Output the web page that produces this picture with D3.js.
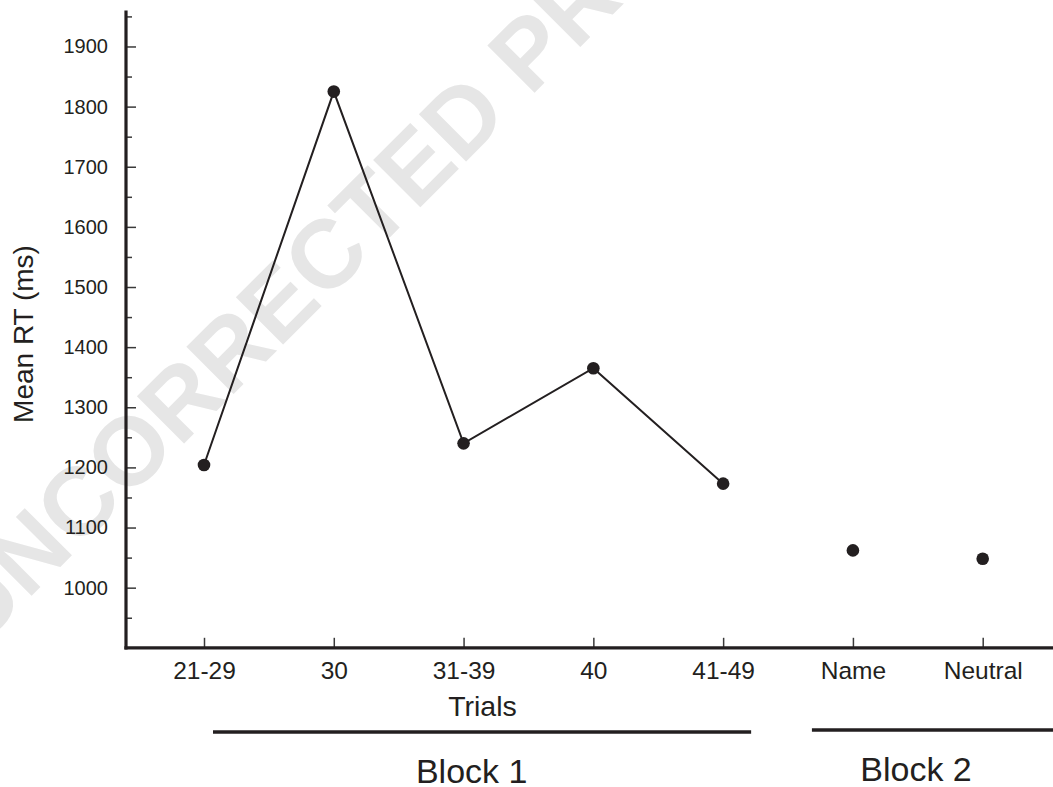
<!DOCTYPE html>
<html>
<head>
<meta charset="utf-8">
<script src="https://cdn.jsdelivr.net/npm/d3@7/dist/d3.min.js"></script>
<style>
  html, body { margin: 0; padding: 0; background: #fff; }
  svg { display: block; font-family: "Liberation Sans", Arial, Helvetica, sans-serif; }
</style>
</head>
<body>
<svg id="chart" width="1053" height="787"></svg>
<script>
// ---- data ----
const categories = ["21-29", "30", "31-39", "40", "41-49", "Name", "Neutral"];
const block1Values = [1204, 1825, 1240, 1365, 1173];   // connected line (21-29 .. 41-49)
const block2Values = [1062, 1048];                     // separate points (Name, Neutral)
const block1Cats = ["21-29", "30", "31-39", "40", "41-49"];
const block2Cats = ["Name", "Neutral"];
const yMajorTicks = [1000, 1100, 1200, 1300, 1400, 1500, 1600, 1700, 1800, 1900];
const yMinorTicks = [950, 1050, 1150, 1250, 1350, 1450, 1550, 1650, 1750, 1850, 1950];
const blockNames = ["Block 1", "Block 2"];
const blockFirst = ["21-29", "Name"];
const blockLast = ["41-49", "Neutral"];
const yTitle = "Mean RT (ms)";
const xTitle = "Trials";
const watermark = "UNCORRECTED PROOF";

const ink = "#231f20";
const svg = d3.select("#chart");

const x = d3.scalePoint().domain(categories).range([204, 982.7]);
const y = d3.scaleLinear().domain([900, 1960]).range([647.8, 10.4]);
const axisX = 126;

// watermark (behind everything)
svg.append("text")
  .attr("transform", "translate(352,228) rotate(-45)")
  .attr("text-anchor", "middle")
  .attr("dominant-baseline", "central")
  .attr("font-size", 97)
  .attr("font-weight", "bold")
  .attr("fill", "#e6e6e6")
  .text(watermark);

// y axis: minor ticks
const gMinor = svg.append("g").attr("transform", `translate(${axisX},0)`)
  .call(d3.axisLeft(y).tickValues(yMinorTicks).tickSize(-6).tickFormat(""));
gMinor.select(".domain").remove();
gMinor.selectAll("line").attr("stroke", "#3a3a3a").attr("stroke-width", 1.5);

// y axis: major ticks + labels
const gY = svg.append("g").attr("transform", `translate(${axisX},0)`)
  .call(d3.axisLeft(y).tickValues(yMajorTicks).tickSize(-10).tickPadding(18).tickFormat(d3.format("d")));
gY.select(".domain").remove();
gY.selectAll("line").attr("stroke", "#3a3a3a").attr("stroke-width", 1.5);
gY.selectAll("text").attr("font-size", 20).attr("fill", ink)
  .attr("font-family", "'Liberation Sans', Arial, sans-serif");

// x axis ticks + labels
const gX = svg.append("g").attr("transform", `translate(0,${y(900)})`)
  .call(d3.axisBottom(x).tickSize(-10).tickPadding(14));
gX.select(".domain").remove();
gX.selectAll("line").attr("stroke", "#3a3a3a").attr("stroke-width", 1.5);
gX.selectAll("text").attr("font-size", 24.5).attr("fill", ink)
  .attr("font-family", "'Liberation Sans', Arial, sans-serif");

// axis lines
svg.append("line").attr("x1", axisX).attr("x2", axisX)
  .attr("y1", y(1960)).attr("y2", y(900) + 1.6)
  .attr("stroke", ink).attr("stroke-width", 3.2);
svg.append("line").attr("x1", axisX - 1.6).attr("x2", 1053)
  .attr("y1", y(900)).attr("y2", y(900))
  .attr("stroke", ink).attr("stroke-width", 3.2);

// data line (block 1)
const pts1 = block1Cats.map((c, i) => [x(c), y(block1Values[i])]);
svg.append("path")
  .attr("d", d3.line()(pts1))
  .attr("fill", "none").attr("stroke", ink).attr("stroke-width", 2);

svg.append("g").selectAll("circle")
  .data(block1Cats.map((c, i) => ({c, v: block1Values[i]})))
  .join("circle")
  .attr("cx", d => x(d.c)).attr("cy", d => y(d.v)).attr("r", 6.3).attr("fill", ink);

svg.append("g").selectAll("circle")
  .data(block2Cats.map((c, i) => ({c, v: block2Values[i]})))
  .join("circle")
  .attr("cx", d => x(d.c)).attr("cy", d => y(d.v)).attr("r", 6.3).attr("fill", ink);

// axis titles
svg.append("text")
  .attr("transform", "translate(33,334) rotate(-90)")
  .attr("text-anchor", "middle")
  .attr("font-size", 28).attr("fill", ink)
  .text(yTitle);

svg.append("text")
  .attr("x", 482.5).attr("y", 716)
  .attr("text-anchor", "middle")
  .attr("font-size", 28.5).attr("fill", ink)
  .text(xTitle);

// block brackets
const blockStartOff = [9, -41];
const blockEndOff = [28, 80];
const blockLineY = [732, 730];
const blockLabelX = [471.7, 916];
const blockLabelY = [782.7, 780.7];
blockNames.forEach((name, i) => {
  svg.append("line")
    .attr("x1", x(blockFirst[i]) + blockStartOff[i])
    .attr("x2", Math.min(1053, x(blockLast[i]) + blockEndOff[i]))
    .attr("y1", blockLineY[i]).attr("y2", blockLineY[i])
    .attr("stroke", ink).attr("stroke-width", 3.4);
  svg.append("text")
    .attr("x", blockLabelX[i]).attr("y", blockLabelY[i])
    .attr("text-anchor", "middle")
    .attr("font-size", 34).attr("fill", ink)
    .text(name);
});
</script>
</body>
</html>
